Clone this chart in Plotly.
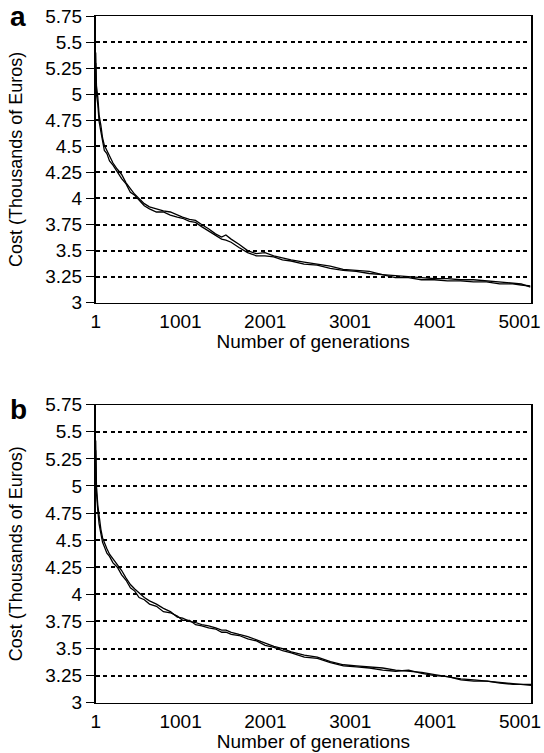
import plotly.graph_objects as go

# ---------------- data ----------------
generations = [1, 10, 26, 41, 62, 82, 103, 133, 164, 205, 256, 307, 359, 410, 461,
               512, 574, 635, 717, 799, 881, 963, 1025, 1107, 1178, 1250, 1332, 1414,
               1486, 1537, 1598, 1691, 1793, 1896, 1998, 2101, 2203, 2306, 2459, 2613,
               2767, 2920, 3074, 3228, 3382, 3535, 3689, 3843, 3996, 4150, 4304, 4457,
               4611, 4765, 4919, 5021, 5130]

cost_a_run1 = [5.40, 5.08, 4.97, 4.80, 4.70, 4.58, 4.51, 4.46, 4.41, 4.34, 4.28, 4.23,
               4.15, 4.09, 4.04, 4.00, 3.95, 3.92, 3.90, 3.88, 3.87, 3.84, 3.82, 3.80,
               3.79, 3.75, 3.71, 3.66, 3.63, 3.65, 3.61, 3.56, 3.50, 3.47, 3.48, 3.45,
               3.43, 3.41, 3.39, 3.37, 3.35, 3.32, 3.31, 3.30, 3.27, 3.26, 3.25, 3.24,
               3.23, 3.23, 3.22, 3.22, 3.21, 3.20, 3.19, 3.18, 3.15]
cost_a_run2 = [5.30, 5.00, 4.90, 4.74, 4.64, 4.53, 4.46, 4.43, 4.36, 4.32, 4.25, 4.19,
               4.14, 4.06, 4.03, 3.98, 3.93, 3.90, 3.87, 3.87, 3.84, 3.82, 3.81, 3.78,
               3.77, 3.73, 3.69, 3.65, 3.61, 3.60, 3.58, 3.53, 3.48, 3.45, 3.45, 3.44,
               3.41, 3.40, 3.37, 3.36, 3.33, 3.31, 3.30, 3.28, 3.27, 3.24, 3.24, 3.22,
               3.22, 3.21, 3.21, 3.20, 3.20, 3.18, 3.18, 3.17, 3.16]

cost_b_run1 = [5.42, 5.00, 4.82, 4.70, 4.60, 4.52, 4.47, 4.42, 4.37, 4.33, 4.27, 4.22,
               4.15, 4.09, 4.05, 4.01, 3.97, 3.94, 3.91, 3.87, 3.84, 3.79, 3.78, 3.75,
               3.74, 3.72, 3.71, 3.69, 3.67, 3.67, 3.65, 3.63, 3.61, 3.58, 3.55, 3.52,
               3.50, 3.47, 3.44, 3.42, 3.38, 3.35, 3.34, 3.33, 3.32, 3.30, 3.29, 3.28,
               3.26, 3.24, 3.22, 3.21, 3.20, 3.19, 3.18, 3.17, 3.16]
cost_b_run2 = [5.33, 4.94, 4.77, 4.65, 4.56, 4.48, 4.44, 4.38, 4.35, 4.29, 4.25, 4.18,
               4.13, 4.06, 4.03, 3.97, 3.95, 3.91, 3.89, 3.84, 3.83, 3.80, 3.76, 3.76,
               3.72, 3.71, 3.69, 3.68, 3.65, 3.65, 3.63, 3.62, 3.59, 3.57, 3.53, 3.51,
               3.48, 3.46, 3.42, 3.41, 3.37, 3.34, 3.33, 3.32, 3.30, 3.29, 3.30, 3.27,
               3.25, 3.24, 3.21, 3.20, 3.20, 3.18, 3.17, 3.17, 3.17]

x_ticks = [1, 1001, 2001, 3001, 4001, 5001]
y_ticks = [3, 3.25, 3.5, 3.75, 4, 4.25, 4.5, 4.75, 5, 5.25, 5.5, 5.75]
y_tick_labels = ["3", "3.25", "3.5", "3.75", "4", "4.25", "4.5", "4.75", "5", "5.25", "5.5", "5.75"]
panel_labels = ["a", "b"]
x_title = "Number of generations"
y_title = "Cost (Thousands of Euros)"

# ---------------- figure ----------------
W, H = 544, 753
FONT = "Liberation Sans, Arial, sans-serif"

fig = go.Figure()
for s, (r1, r2) in enumerate([(cost_a_run1, cost_a_run2), (cost_b_run1, cost_b_run2)]):
    xa = "x" if s == 0 else "x2"
    ya = "y" if s == 0 else "y2"
    for run in (r1, r2):
        fig.add_trace(go.Scatter(x=generations, y=run, mode="lines", xaxis=xa, yaxis=ya,
                                 line=dict(color="black", width=1.3), showlegend=False,
                                 hoverinfo="skip"))

def px_dom_x(a, b):
    return [a / W, b / W]

def px_dom_y(top, bottom):
    return [1 - bottom / H, 1 - top / H]

xaxis_common = dict(range=[1, 5130], tickvals=x_ticks, ticktext=[str(v) for v in x_ticks],
                    showgrid=False, zeroline=False, showline=True, linecolor="black",
                    linewidth=1, mirror=True, ticks="", ticklabelstandoff=1,
                    automargin=False, ticklabeloverflow="allow",
                    tickfont=dict(family=FONT, size=19, color="black"),
                    title=dict(text=x_title, font=dict(family=FONT, size=19, color="black"),
                               standoff=2))
yaxis_common = dict(range=[3, 5.75], tickvals=y_ticks, ticktext=y_tick_labels,
                    showgrid=True, gridcolor="black", gridwidth=1.6, griddash="4px,3.5px",
                    zeroline=False, showline=True, linecolor="black", linewidth=1.5,
                    mirror=True, ticks="outside", ticklen=8, tickcolor="black", tickwidth=1,
                    automargin=False, ticklabeloverflow="allow",
                    tickfont=dict(family=FONT, size=19, color="black"),
                    title=dict(text=y_title, font=dict(family=FONT, size=18, color="black"),
                               standoff=18))

fig.update_layout(
    width=W, height=H, margin=dict(l=0, r=0, t=0, b=0),
    paper_bgcolor="white", plot_bgcolor="white",
    xaxis=dict(domain=px_dom_x(95.7, 530.5), anchor="y", **xaxis_common),
    yaxis=dict(domain=px_dom_y(16, 302.7), anchor="x", **yaxis_common),
    xaxis2=dict(domain=px_dom_x(95.7, 531), anchor="y2", **xaxis_common),
    yaxis2=dict(domain=px_dom_y(404.7, 702.7), anchor="x2", **yaxis_common),
)

for lbl, ypos in zip(panel_labels, [17, 410]):
    fig.add_annotation(text="<b>%s</b>" % lbl, xref="paper", yref="paper",
                       x=18 / W, y=1 - ypos / H,
                       xanchor="center", yanchor="middle",
                       showarrow=False, font=dict(family=FONT, size=28, color="black"))

fig.write_html("out.html", config={"displayModeBar": False},
               post_script="document.body.style.margin='0px';document.body.style.overflow='hidden';")
